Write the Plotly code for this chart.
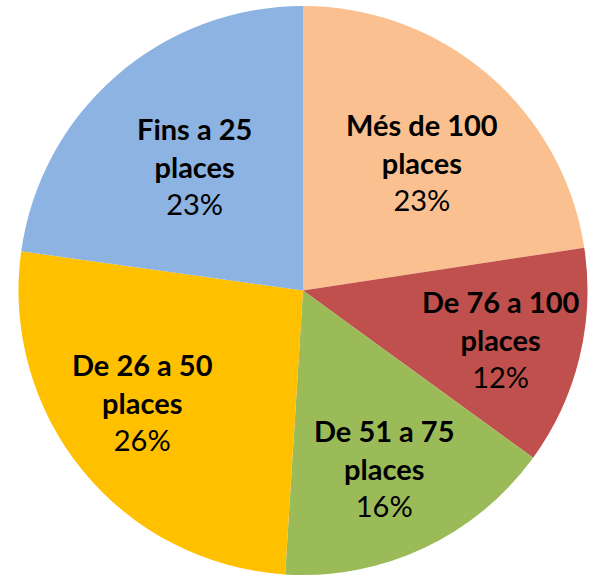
import math
import plotly.graph_objects as go

categories = ["Més de 100 places", "De 76 a 100 places", "De 51 a 75 places",
              "De 26 a 50 places", "Fins a 25 places"]
values = [22.6, 12.4, 16.0, 26.2, 22.8]
colors = ["#FAC08F", "#C0504D", "#9BBB59", "#FFC000", "#8DB3E2"]
label_radius = [0.61, 0.72, 0.67, 0.72, 0.58]
label_shift = [(6, -3), (-2, 0), (0, -5), (-2, 18), (0, 0)]

W, H = 590, 575
cx, cy, r = 303, 290.5, 284.5

fig = go.Figure(go.Pie(
    labels=categories, values=values, sort=False, direction="clockwise",
    rotation=0, marker=dict(colors=colors, line=dict(width=0)),
    textinfo="none", showlegend=False, hoverinfo="label+percent",
    domain=dict(x=[(cx - r) / W, (cx + r) / W], y=[1 - (cy + r) / H, 1 - (cy - r) / H]),
))

total = sum(values)
cum = 0.0
annotations = []
for cat, v, rf, (sx, sy) in zip(categories, values, label_radius, label_shift):
    mid = (cum + v / 2) / total * 2 * math.pi
    cum += v
    px = cx + rf * r * math.sin(mid)
    py = cy - rf * r * math.cos(mid)
    name = cat.replace(" places", "<br>places")
    pct = round(v / total * 100)
    annotations.append(dict(
        x=px / W, y=1 - py / H, xref="paper", yref="paper", showarrow=False,
        xanchor="center", yanchor="middle", xshift=sx, yshift=sy,
        text=f"<b>{name}</b><br>{pct}%", align="center",
        font=dict(family="Lato", size=29, color="#000000"),
    ))

fig.update_layout(
    width=W, height=H, margin=dict(l=0, r=0, t=0, b=0),
    paper_bgcolor="white", plot_bgcolor="white", annotations=annotations,
)
fig.write_html("out.html", config={"displayModeBar": False},
               post_script="document.body.style.margin='0';")
